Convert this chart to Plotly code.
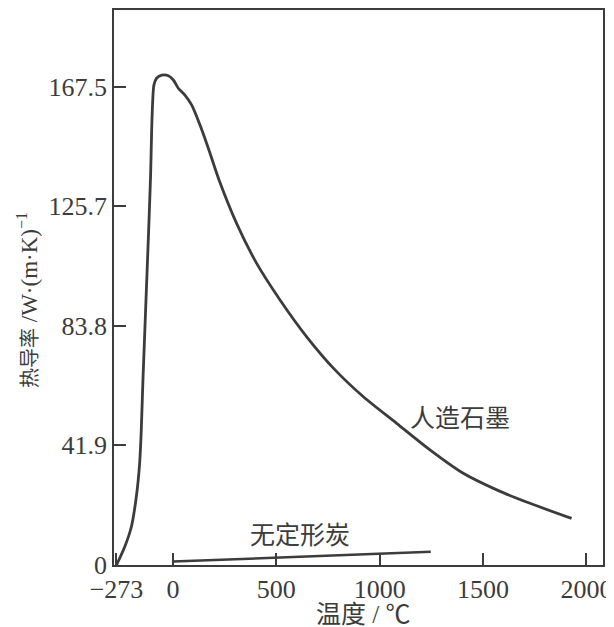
import plotly.graph_objects as go

# Artificial graphite (人造石墨): temperature (°C) vs thermal conductivity W/(m·K)
graphite_T = [-273, -233, -201, -177, -161, -153, -145, -121, -108, -103, -98, -92,
              -79, -54, -22, 2, 26, 58, 91, 131, 174, 223, 308, 405, 518,
              647, 784, 921, 1082, 1243, 1404, 1566, 1727, 1928]
graphite_K = [0, 6.4, 13.4, 23.9, 35.6, 47.3, 64.8, 110.3, 136.5, 151.7, 162.2, 168.0,
              170.4, 171.5, 171.3, 169.8, 166.9, 164.5, 161.0, 154.0, 145.3,
              134.8, 119.6, 105.6, 92.8, 79.9, 68.3, 58.9, 49.6, 40.3, 32.1, 26.3,
              21.6, 16.3]

# Amorphous carbon (无定形炭)
amorphous_T = [0, 1247]
amorphous_K = [1.2, 4.6]

x_tick_vals = [-273, 0, 500, 1000, 1500, 2000]
x_tick_text = ["\u2212273", "0", "500", "1000", "1500", "2000"]
y_tick_vals = [0, 41.9, 83.8, 125.7, 167.5]
y_tick_text = ["0", "41.9", "83.8", "125.7", "167.5"]

ink = "#3c3c3c"
font_family = "Liberation Serif, Noto Sans CJK SC, serif"

fig = go.Figure()
fig.add_trace(go.Scatter(x=graphite_T, y=graphite_K, mode="lines",
                         line=dict(color=ink, width=2.8, shape="spline", smoothing=0.8),
                         showlegend=False, hoverinfo="skip"))
fig.add_trace(go.Scatter(x=amorphous_T, y=amorphous_K, mode="lines",
                         line=dict(color=ink, width=2.5),
                         showlegend=False, hoverinfo="skip"))

fig.add_annotation(x=1388, y=51.3, text="人造石墨", showarrow=False,
                   font=dict(size=25, color=ink, family=font_family))
fig.add_annotation(x=614, y=10.2, text="无定形炭", showarrow=False,
                   font=dict(size=25, color=ink, family=font_family))
fig.add_annotation(xref="paper", yref="paper", x=(27 - 114) / 489, y=(565 - 300) / 555,
                   xanchor="center", yanchor="middle",
                   text="<span style='font-size:20px'>热导率</span> /W·(m·K)<sup>−1</sup>",
                   textangle=-90, showarrow=False,
                   font=dict(size=23, color=ink, family=font_family))
fig.add_annotation(xref="paper", yref="paper", x=(363 - 114) / 489, y=(565 - 614) / 555,
                   text="温度 / ℃", showarrow=False, xanchor="center", yanchor="middle",
                   font=dict(size=25, color=ink, family=font_family))

fig.update_xaxes(range=[-285, 2080], tickvals=x_tick_vals, ticktext=x_tick_text,
                 ticks="inside", ticklen=12, tickwidth=1.5, tickcolor=ink,
                 showline=True, linecolor=ink, linewidth=1.5, mirror=True,
                 showgrid=False, zeroline=False, automargin=False,
                 tickfont=dict(size=26, color=ink, family=font_family))
fig.update_yaxes(range=[0, 194.3], tickvals=y_tick_vals, ticktext=y_tick_text,
                 ticks="inside", ticklen=12, tickwidth=1.5, tickcolor=ink,
                 showline=True, linecolor=ink, linewidth=1.5, mirror=True,
                 showgrid=False, zeroline=False, automargin=False,
                 tickfont=dict(size=26, color=ink, family=font_family))

# page body has an 8px default margin, so the figure is sized/offset to land the
# plot area at the reference position
fig.update_layout(width=606, height=619,
                  margin=dict(l=106, r=11, t=2, b=62),
                  paper_bgcolor="white", plot_bgcolor="white",
                  font=dict(family=font_family, color=ink))

fig.write_html("out.html")
